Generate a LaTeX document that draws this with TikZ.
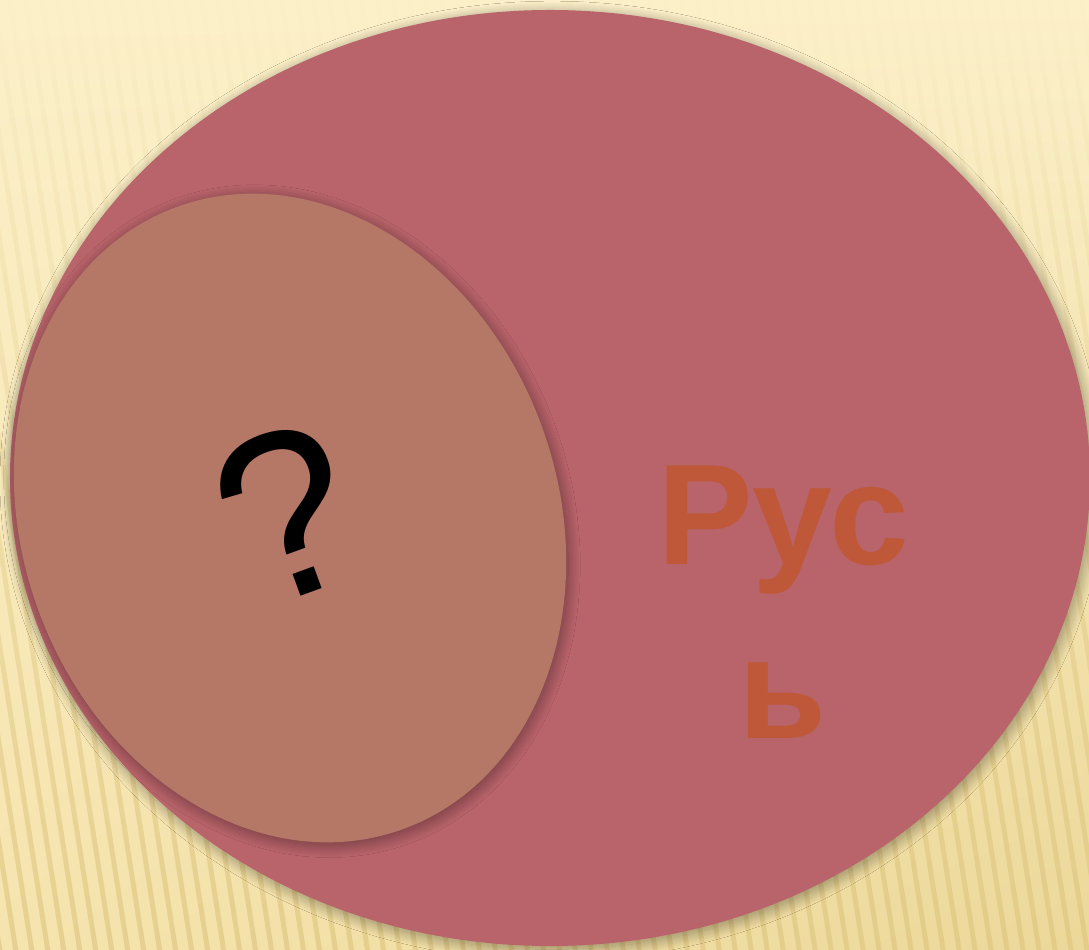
\documentclass[tikz,border=0pt]{standalone}
\usepackage{fontspec}
\setmainfont{Liberation Sans}
\usetikzlibrary{shapes.geometric,shadows.blur,fadings,shadings}
\definecolor{bgcream}{HTML}{FCF0C9}
\definecolor{bgwarm}{HTML}{F6E4AE}
\definecolor{bgdeep}{HTML}{ECD899}
\definecolor{bgstripe}{HTML}{DCC47C}
\definecolor{rusfill}{HTML}{B9636A}
\definecolor{unkfill}{HTML}{B57766}
\definecolor{rustext}{HTML}{BE5838}
\tikzset{px/.style={x=.25mm,y=-.25mm},
  oval/.style={ellipse,inner sep=0pt,blur shadow={shadow xshift=.5mm,shadow yshift=-.8mm,shadow blur radius=3mm,shadow blur steps=25,shadow opacity=40}},
  stripe/.style={fill=bgstripe,opacity=.6},
  rustxt/.style={text=rustext,inner sep=0pt,anchor=base,font=\bfseries\fontsize{102}{120}\selectfont}}

\begin{document}
\begin{tikzpicture}[px]
  \shade[upper left=bgcream,upper right=bgcream,lower left=bgwarm,lower right=bgdeep] (0,0) rectangle (1089,950);
  \useasboundingbox (0,0) rectangle (1089,950);
  % stripes, stronger towards the bottom
  \begin{scope}
    \clip (0,0) rectangle (1089,950);
    \fill[stripe,path fading=north] \foreach \i in {-200,-184,...,1100}{(\i,0)--(\i+5,0)--(\i+155,950)--(\i+150,950)--cycle};
  \end{scope}
  \node[oval,fill=rusfill,minimum width=270mm,minimum height=234mm] (rus) at (550,478){};
  \node[oval,fill=unkfill,minimum width=134mm,minimum height=165.5mm,rotate=20] (unknown) at (290,518){};
  \node[font=\fontsize{168}{168}\selectfont,rotate=20,inner sep=0pt] (qmark) at (287,514){?};
  \node[rustxt] (rusa) at (783,565){Рус};
  \node[rustxt] (rusb) at (783,738){ь};
\end{tikzpicture}
\end{document}
